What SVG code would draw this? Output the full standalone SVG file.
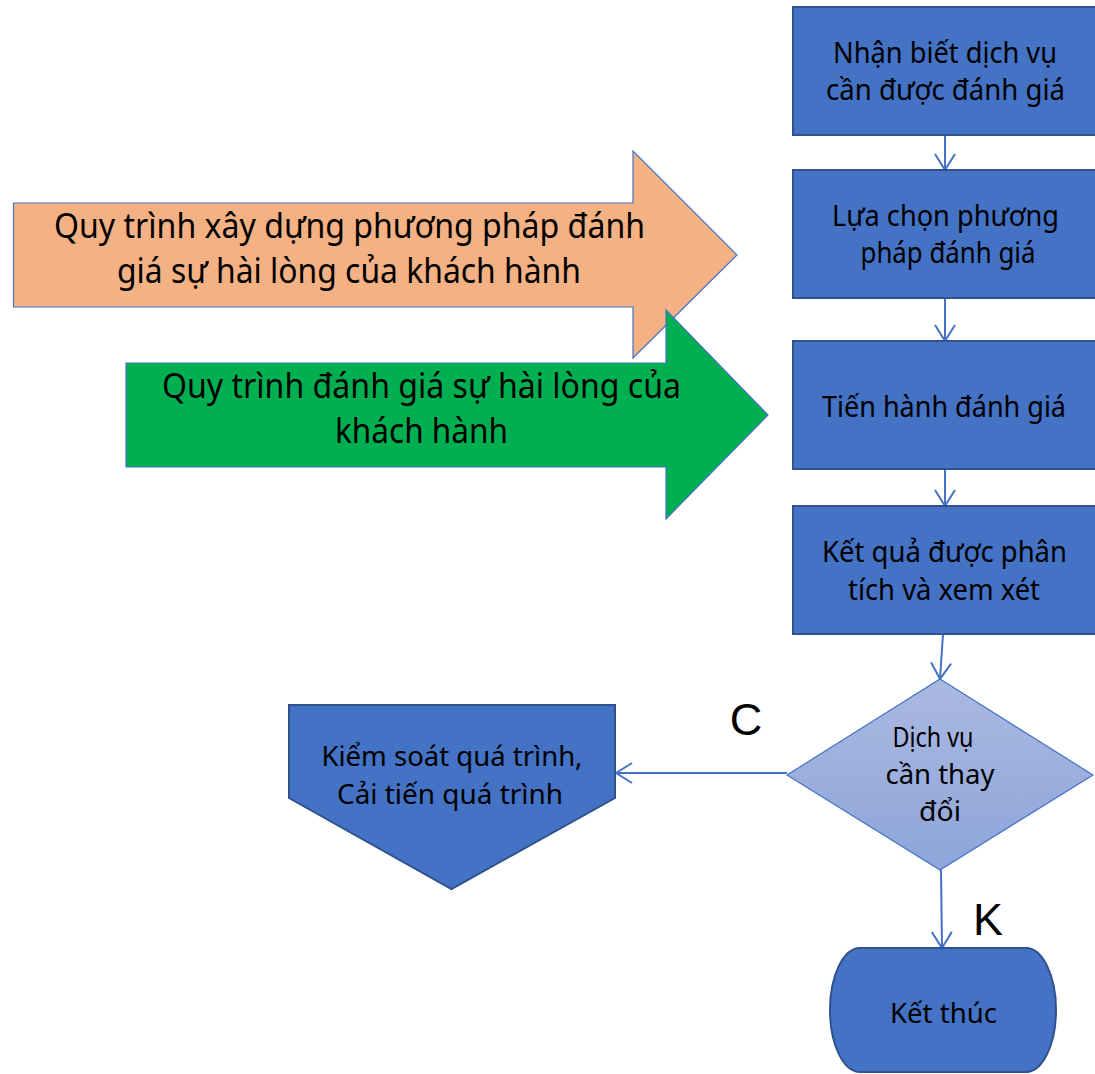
<svg xmlns="http://www.w3.org/2000/svg" width="1095" height="1074" viewBox="0 0 1095 1074">
  <defs>
    <style>
      .box { fill: #4472C4; stroke: #2F528F; stroke-width: 2; }
      .lbl { font-family: "Noto Sans", "Open Sans", sans-serif; fill: #000; text-anchor: middle; }
      .big { font-size: 34px; }
      .mid { font-size: 29px; }
      .sm { font-size: 27px; }
      .tag { font-family: "Liberation Sans", Arial, sans-serif; font-size: 45px; fill: #000; text-anchor: middle; }
      .conn { fill: none; stroke: #4472C4; stroke-width: 2; }
    </style>
    <marker id="open" viewBox="0 0 18 22" refX="17" refY="11" markerWidth="18" markerHeight="22" markerUnits="userSpaceOnUse" orient="auto">
      <path d="M1,1 L17,11 L1,21" fill="none" stroke="#4472C4" stroke-width="2"/>
    </marker>
    <linearGradient id="diaFill" x1="0" y1="0" x2="0" y2="1">
      <stop offset="0" stop-color="#AAB9E0"/>
      <stop offset="1" stop-color="#8EA5DA"/>
    </linearGradient>
  </defs>

  <!-- wide process arrows -->
  <g id="arrow-xay-dung">
    <path d="M13.5,203 L633,203 L633,151 L737,255 L633,358 L633,307 L13.5,307 Z" fill="#F4B183" stroke="#4472C4" stroke-width="1.2"/>
    <text class="lbl big" x="349.5" y="238" textLength="591" lengthAdjust="spacingAndGlyphs">Quy trình xây dựng phương pháp đánh</text>
    <text class="lbl big" x="349" y="283" textLength="464" lengthAdjust="spacingAndGlyphs">giá sự hài lòng của khách hành</text>
  </g>
  <g id="arrow-danh-gia">
    <path d="M126,363 L666,363 L666,310 L768,415 L666,519 L666,467 L126,467 Z" fill="#00B050" stroke="#4472C4" stroke-width="1.2"/>
    <text class="lbl big" x="421.5" y="398" textLength="519" lengthAdjust="spacingAndGlyphs">Quy trình đánh giá sự hài lòng của</text>
    <text class="lbl big" x="421.5" y="443" textLength="173" lengthAdjust="spacingAndGlyphs">khách hành</text>
  </g>

  <!-- flowchart connectors -->
  <g id="connectors">
    <line class="conn" x1="945" y1="135" x2="945" y2="170" marker-end="url(#open)"/>
    <line class="conn" x1="945" y1="298" x2="945" y2="341" marker-end="url(#open)"/>
    <line class="conn" x1="945" y1="469" x2="945" y2="506" marker-end="url(#open)"/>
    <line class="conn" x1="943" y1="634" x2="940" y2="679" marker-end="url(#open)"/>
    <line class="conn" x1="787" y1="773" x2="616" y2="773" marker-end="url(#open)"/>
    <line class="conn" x1="941" y1="870" x2="942" y2="948" marker-end="url(#open)"/>
  </g>

  <!-- process steps -->
  <g id="step-nhan-biet">
    <rect class="box" x="793" y="7" width="304" height="128"/>
    <text class="lbl mid" x="945" y="63" textLength="224" lengthAdjust="spacingAndGlyphs">Nhận biết dịch vụ</text>
    <text class="lbl mid" x="945.5" y="100" textLength="239" lengthAdjust="spacingAndGlyphs">cần được đánh giá</text>
  </g>
  <g id="step-lua-chon">
    <rect class="box" x="793" y="170" width="304" height="128"/>
    <text class="lbl mid" x="945.5" y="226" textLength="227" lengthAdjust="spacingAndGlyphs">Lựa chọn phương</text>
    <text class="lbl mid" x="948" y="263" textLength="175" lengthAdjust="spacingAndGlyphs">pháp đánh giá</text>
  </g>
  <g id="step-tien-hanh">
    <rect class="box" x="793" y="341" width="304" height="128"/>
    <text class="lbl mid" x="944" y="417" textLength="244" lengthAdjust="spacingAndGlyphs">Tiến hành đánh giá</text>
  </g>
  <g id="step-ket-qua">
    <rect class="box" x="793" y="506" width="304" height="128"/>
    <text class="lbl mid" x="944.5" y="562" textLength="245" lengthAdjust="spacingAndGlyphs">Kết quả được phân</text>
    <text class="lbl mid" x="944" y="600" textLength="192" lengthAdjust="spacingAndGlyphs">tích và xem xét</text>
  </g>

  <!-- decision -->
  <g id="decision">
    <path d="M940,679 L1093,775 L940,870 L787,775 Z" fill="url(#diaFill)" stroke="#4472C4" stroke-width="1.2"/>
    <text class="lbl sm" x="933" y="747" textLength="81" lengthAdjust="spacingAndGlyphs">Dịch vụ</text>
    <text class="lbl sm" x="940" y="784" textLength="109" lengthAdjust="spacingAndGlyphs">cần thay</text>
    <text class="lbl sm" x="940" y="821" textLength="42" lengthAdjust="spacingAndGlyphs">đổi</text>
  </g>

  <!-- branch labels -->
  <text class="tag" x="746" y="735">C</text>
  <text class="tag" x="988" y="935">K</text>

  <g id="kiem-soat">
    <path class="box" d="M289,705 L615,705 L615,798 L451.5,889 L289,798 Z"/>
    <text class="lbl sm" x="452" y="766" textLength="261" lengthAdjust="spacingAndGlyphs">Kiểm soát quá trình,</text>
    <text class="lbl sm" x="450" y="804" textLength="226" lengthAdjust="spacingAndGlyphs">Cải tiến quá trình</text>
  </g>

  <g id="ket-thuc">
    <rect class="box" x="830" y="948" width="226" height="124" rx="30" ry="62"/>
    <text class="lbl sm" x="943.5" y="1023" textLength="107" lengthAdjust="spacingAndGlyphs">Kết thúc</text>
  </g>
</svg>
